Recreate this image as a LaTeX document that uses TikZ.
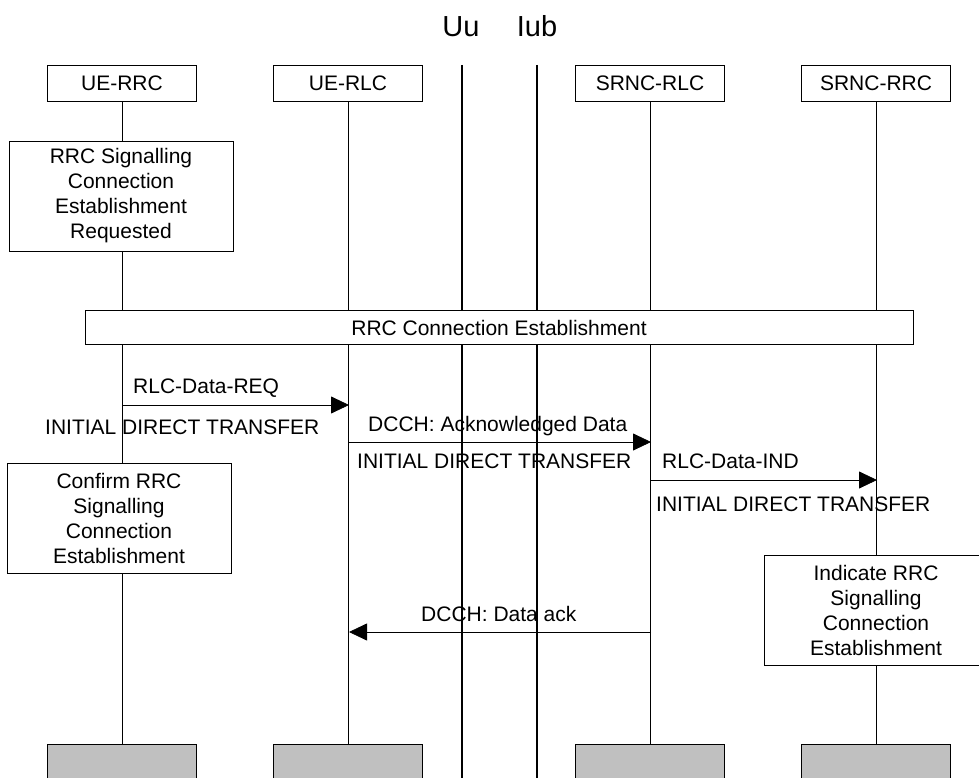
\documentclass[tikz,border=0pt]{standalone}
\usepackage{fontspec}
\setmainfont{Liberation Sans}
\usetikzlibrary{arrows.meta}
\definecolor{endgray}{HTML}{C0C0C0}
\begin{document}
\begin{tikzpicture}[x=1pt,y=-1pt,
  every node/.style={font=\fontsize{21}{25}\selectfont},
  entbox/.style={draw, line width=0.9pt, minimum width=149pt, minimum height=36pt, inner sep=0pt},
  endbox/.style={draw, line width=0.9pt, fill=endgray, minimum width=149pt, minimum height=60pt, inner sep=0pt},
  procbox/.style={draw, line width=0.9pt, fill=white, align=center, minimum width=224pt, minimum height=110pt, inner sep=0pt},
  lifeline/.style={line width=0.8pt},
  iface/.style={line width=2pt},
  msg/.style={line width=0.8pt, -{Triangle[length=18pt,width=17pt]}},
  lbl/.style={anchor=base west, inner sep=0pt}]
\useasboundingbox (0,0) rectangle (979,778);
\clip (0,0) rectangle (979,778);

% interface labels
\node[anchor=base, inner sep=0pt, font=\fontsize{29}{32}\selectfont] (uu) at (461,37) {Uu};
\node[anchor=base, inner sep=0pt, font=\fontsize{29}{32}\selectfont] (iub) at (537,37) {Iub};

% entities
\node[entbox] (uerrc) at (122,83) {UE-RRC};
\node[entbox] (uerlc) at (348,83) {UE-RLC};
\node[entbox] (srlc) at (650,83) {SRNC-RLC};
\node[entbox] (srrc) at (876,83) {SRNC-RRC};

\node[endbox] (uerrcE) at (122,774) {};
\node[endbox] (uerlcE) at (348,774) {};
\node[endbox] (srlcE) at (650,774) {};
\node[endbox] (srrcE) at (876,774) {};

% lifelines
\draw[lifeline] (uerrc) -- (uerrcE);
\draw[lifeline] (uerlc) -- (uerlcE);
\draw[lifeline] (srlc) -- (srlcE);
\draw[lifeline] (srrc) -- (srrcE);

% interface lines
\coordinate (uuTop) at (462,65);
\coordinate (uuBot) at (462,790);
\coordinate (iubTop) at (537,65);
\coordinate (iubBot) at (537,790);
\draw[iface] (uuTop) -- (uuBot);
\draw[iface] (iubTop) -- (iubBot);

% procedure boxes
\node[procbox] (req) at (121,196) {RRC Signalling\\Connection\\Establishment\\Requested};
\node[draw, line width=0.9pt, fill=white, minimum width=828pt, minimum height=34pt, inner sep=0pt] (conn) at (499,327.5) {RRC Connection Establishment};
\node[procbox] (conf) at (119,518) {Confirm RRC\\Signalling\\Connection\\Establishment};
\node[procbox] (ind) at (876,610) {Indicate RRC\\Signalling\\Connection\\Establishment};

% message end points
\coordinate (m1s) at (122,405);
\coordinate (m1e) at (349,405);
\coordinate (m2s) at (349,442);
\coordinate (m2e) at (651,442);
\coordinate (m3s) at (651,480);
\coordinate (m3e) at (877,480);
\coordinate (m4s) at (651,632);
\coordinate (m4e) at (349,632);

\draw[msg] (m1s) -- (m1e);
\draw[msg] (m2s) -- (m2e);
\draw[msg] (m3s) -- (m3e);
\draw[msg] (m4s) -- (m4e);

% labels
\node[lbl] (l1) at (133,393) {RLC-Data-REQ};
\node[lbl] (l1b) at (45,434) {INITIAL DIRECT TRANSFER};
\node[lbl] (l2) at (368,431) {DCCH: Acknowledged Data};
\node[lbl] (l2b) at (357,468) {INITIAL DIRECT TRANSFER};
\node[lbl] (l3) at (662,468) {RLC-Data-IND};
\node[lbl] (l3b) at (656,511) {INITIAL DIRECT TRANSFER};
\node[lbl] (l4) at (421,621) {DCCH: Data ack};
\end{tikzpicture}
\end{document}
